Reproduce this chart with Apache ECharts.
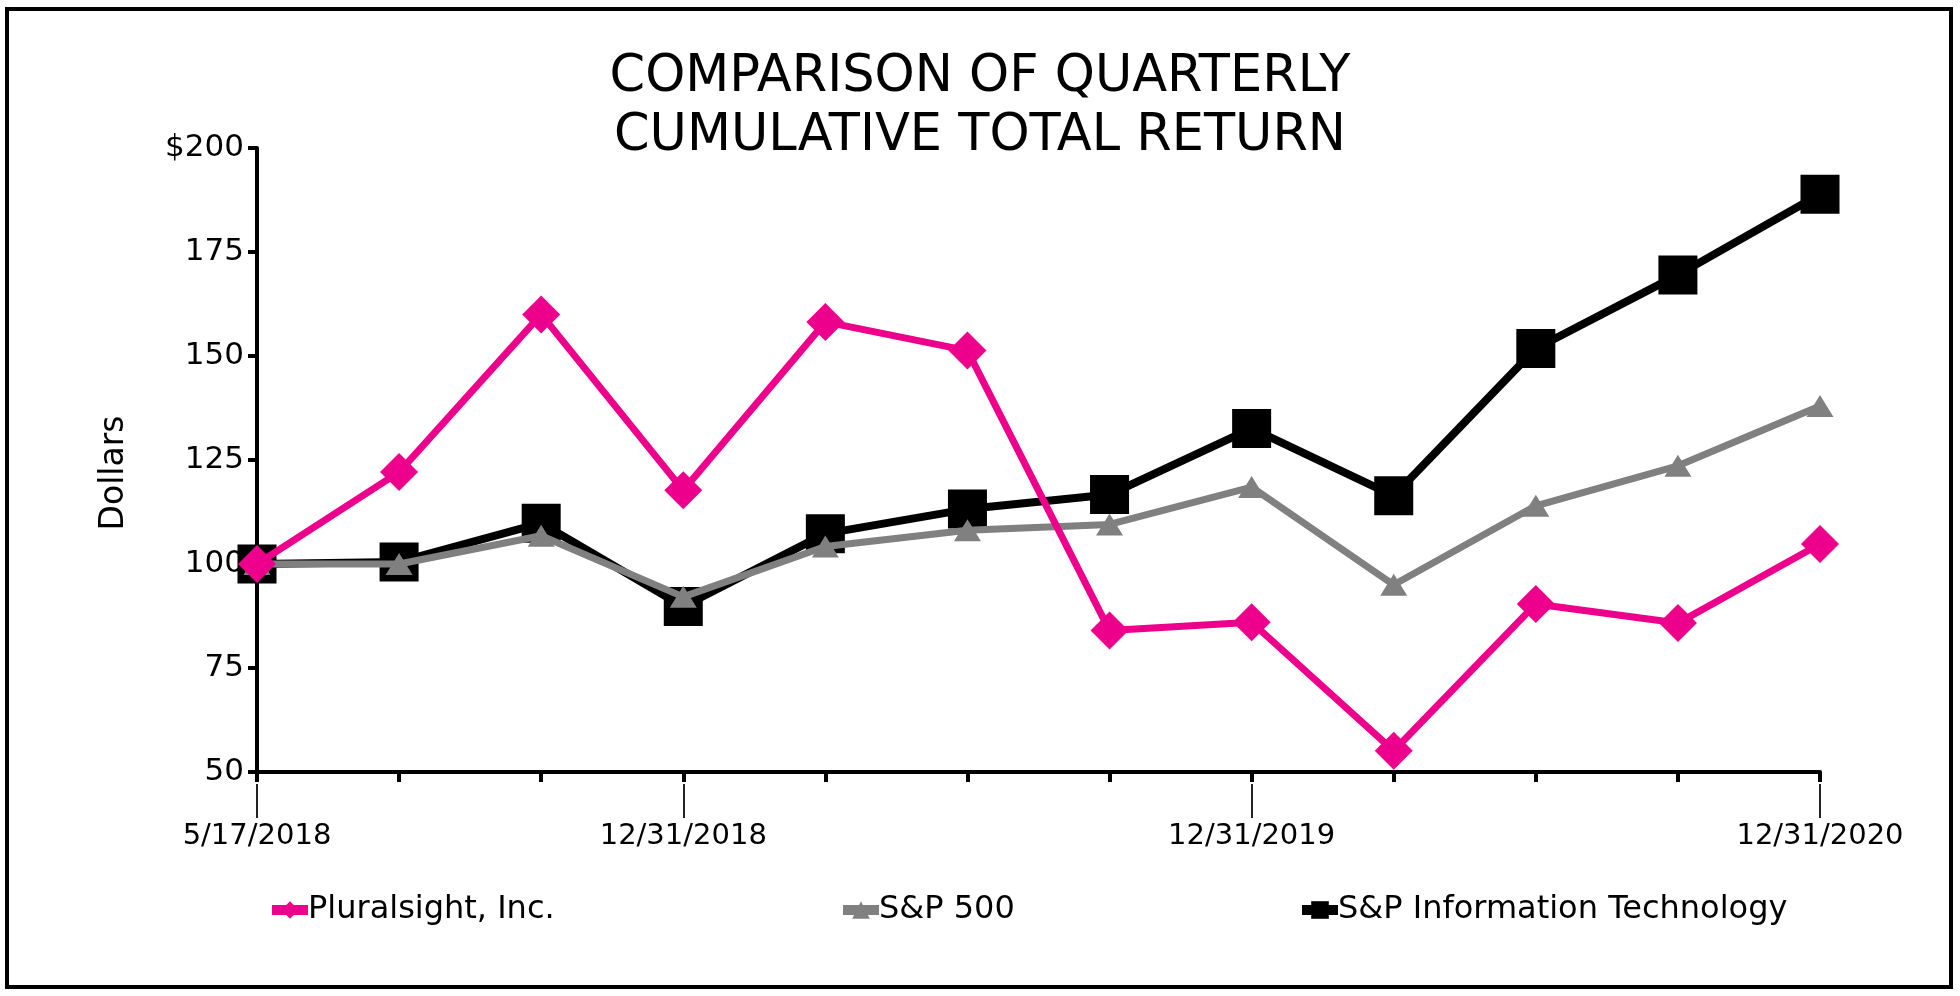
<!DOCTYPE html>
<html>
<head>
<meta charset="utf-8">
<script src="https://cdn.jsdelivr.net/npm/echarts@6/dist/echarts.min.js"></script>
<style>
html,body{margin:0;padding:0;background:#fff;}
#chart{width:1960px;height:996px;}
</style>
</head>
<body>
<div id="chart"></div>
<script>
const categories = ['5/17/2018','6/30/2018','9/30/2018','12/31/2018','3/31/2019','6/30/2019','9/30/2019','12/31/2019','3/31/2020','6/30/2020','9/30/2020','12/31/2020'];
const labeledDates = ['5/17/2018','12/31/2018','12/31/2019','12/31/2020'];
const yTickLabels = ['50','75','100','125','150','175','$200'];
const titleLines = ['COMPARISON OF QUARTERLY', 'CUMULATIVE TOTAL RETURN'];
const pluralsight = [100, 122.1, 160, 117.7, 158.2, 151.3, 84, 86, 55.1, 90.4, 85.8, 104.8];
const sp500 = [100, 100, 106.8, 92.1, 104.2, 108.1, 109.5, 118.5, 95, 114, 123.6, 138];
const spIT = [100, 100.5, 109.8, 89.8, 107.3, 113.2, 116.7, 132.6, 116.4, 151.8, 169.5, 188.9];
const seriesNames = ['Pluralsight, Inc.', 'S&P 500', 'S&P Information Technology'];

const FONT = 'DejaVu Sans';
const chart = echarts.init(document.getElementById('chart'));
const showIdx = (i) => labeledDates.indexOf(categories[i]) >= 0;

const legendBase = (name, left) => ({
  data: [name], left: left, top: 894, padding: 0, itemWidth: 36, itemHeight: 22, itemGap: 0,
  lineStyle: { width: 10 },
  textStyle: { fontFamily: FONT, fontSize: 32, color: '#000', padding: [0, 0, 0, -5] }
});

chart.setOption({
  backgroundColor: '#fff',
  animation: false,
  title: [
    { text: titleLines[0], left: 'center', top: 47,
      textStyle: { fontFamily: FONT, fontSize: 51, fontWeight: 'normal', color: '#000' } },
    { text: titleLines[1], left: 'center', top: 106,
      textStyle: { fontFamily: FONT, fontSize: 51, fontWeight: 'normal', color: '#000' } }
  ],
  graphic: [{
    type: 'rect',
    shape: { x: 7, y: 9, width: 1944, height: 978 },
    style: { fill: 'none', stroke: '#000', lineWidth: 4 },
    silent: true
  }],
  legend: [
    legendBase(seriesNames[0], 267),
    legendBase(seriesNames[1], 838),
    legendBase(seriesNames[2], 1297)
  ],
  grid: { left: 257, right: 140, top: 148, bottom: 224, containLabel: false },
  xAxis: [{
    type: 'category',
    data: categories,
    boundaryGap: false,
    axisLine: { lineStyle: { color: '#000', width: 4 } },
    axisTick: { show: true, alignWithLabel: true, interval: 0, length: 10, lineStyle: { color: '#000', width: 4 } },
    axisLabel: { show: false },
    splitLine: { show: false }
  }, {
    type: 'category',
    data: categories,
    boundaryGap: false,
    position: 'bottom',
    offset: 12,
    axisLine: { show: false },
    axisTick: { show: true, interval: (i) => showIdx(i), length: 34, lineStyle: { color: '#222', width: 2 } },
    axisLabel: { show: true, interval: (i) => showIdx(i), margin: 38, fontFamily: FONT, fontSize: 29, color: '#000' },
    splitLine: { show: false }
  }],
  yAxis: {
    type: 'value',
    min: 50, max: 200, interval: 25,
    name: 'Dollars',
    nameLocation: 'middle',
    nameGap: 126,
    nameRotate: 90,
    nameTextStyle: { fontFamily: FONT, fontSize: 33, color: '#000', padding: [0, 26, 0, 0] },
    axisLine: { show: true, lineStyle: { color: '#000', width: 4 } },
    axisTick: { show: true, length: 9, lineStyle: { color: '#000', width: 4 } },
    axisLabel: { margin: 13, fontFamily: FONT, fontSize: 31, color: '#000',
      formatter: (v) => yTickLabels[Math.round((v - 50) / 25)] },
    splitLine: { show: false }
  },
  series: [{
    name: seriesNames[2], type: 'line', data: spIT, xAxisIndex: 0,
    symbol: 'rect', symbolSize: 39,
    lineStyle: { color: '#000', width: 8 }, itemStyle: { color: '#000' }, z: 2
  }, {
    name: seriesNames[1], type: 'line', data: sp500, xAxisIndex: 0,
    symbol: 'triangle', symbolSize: [27, 22],
    lineStyle: { color: '#808080', width: 7 }, itemStyle: { color: '#808080' }, z: 3
  }, {
    name: seriesNames[0], type: 'line', data: pluralsight, xAxisIndex: 0,
    symbol: 'diamond', symbolSize: 38,
    lineStyle: { color: '#EC008C', width: 7 }, itemStyle: { color: '#EC008C' }, z: 4
  }]
});
</script>
</body>
</html>
